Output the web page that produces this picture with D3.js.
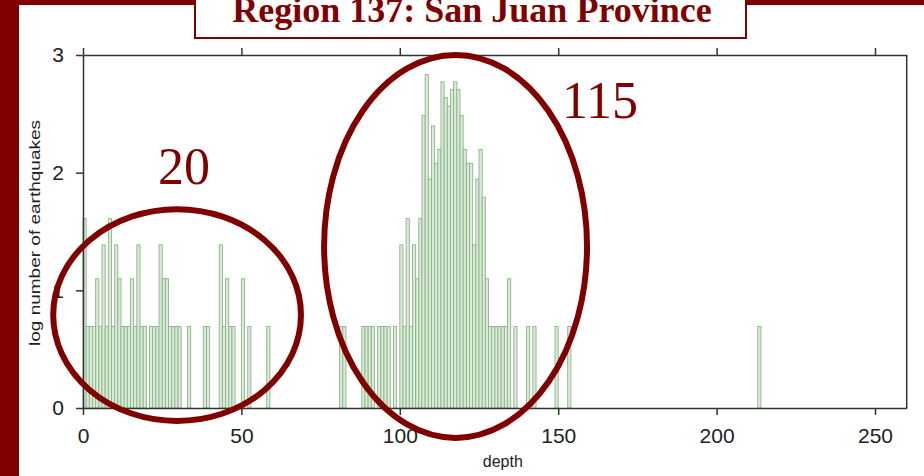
<!DOCTYPE html>
<html>
<head>
<meta charset="utf-8">
<script src="https://cdn.jsdelivr.net/npm/d3@7"></script>
<style>
  body { margin: 0; background: #fff; }
  svg { display: block; }
  .axis text { font-family: "Liberation Sans", Arial, sans-serif; fill: #222; }
  .axis path, .axis line { stroke: #333; stroke-width: 1.5; }
</style>
</head>
<body>
<svg id="chart" width="924" height="476"></svg>
<script>
// depth bins (1 km wide, left edge) and number of events in each bin.
// bins with a single event sit at log 0 and are not listed.
var depthBins = [0, 1, 2, 3, 4, 5, 6, 7, 8, 9, 10, 11, 12, 13, 14, 15, 16, 17, 18, 19,
  21, 22, 23, 24, 25, 26, 27, 28, 29, 30, 33, 38, 39, 43, 44, 45, 46, 47, 50, 52, 58,
  81, 82, 88, 89, 90, 91, 93, 94, 95, 96, 98, 100, 101, 102, 103, 104, 105, 106, 107,
  108, 109, 110, 111, 112, 113, 114, 115, 116, 117, 118, 119, 120, 121, 122, 123, 124,
  125, 126, 127, 128, 129, 130, 131, 132, 133, 134, 136, 140, 142, 149, 153, 213];
var binCounts = [5, 2, 2, 2, 3, 2, 4, 2, 5, 2, 4, 3, 2, 2, 2, 3, 2, 4, 2, 2,
  2, 2, 2, 4, 3, 3, 2, 2, 2, 2, 2, 2, 2, 4, 2, 3, 2, 2, 3, 2, 2,
  2, 2, 2, 2, 2, 2, 2, 2, 2, 2, 2, 4, 2, 5, 2, 4, 3, 5, 12,
  17, 7, 11, 8, 9, 16, 14, 13, 15, 16, 15, 12, 9, 8, 8, 4, 7,
  9, 6, 3, 2, 2, 2, 2, 2, 2, 3, 2, 2, 2, 2, 2, 2];
var xTicks = [0, 50, 100, 150, 200, 250];
var yTicks = [0, 1, 2, 3];
var titleText = 'Region 137: San Juan Province';
var xLabel = 'depth';
var yLabel = 'log number of earthquakes';

// annotated clusters: centre depth, centre log value, half widths, label and its anchor
var clusterNames = ['20', '115'];
var clusterCenters = [[29.7, 0.79], [117.6, 1.373]];
var clusterRadii = [[39.1, 0.9], [41.5, 1.627]];
var clusterLabelAt = [[31.9, 1.904], [163.2, 2.465]];

var svg = d3.select('#chart');
var darkRed = '#800000';
var plot = { left: 83, right: 906.7, top: 55, bottom: 408 };

var x = d3.scaleLinear().domain([0, 260]).range([plot.left, plot.right]);
var y = d3.scaleLinear().domain([0, 3]).range([plot.bottom, plot.top]);

var bins = depthBins.map(function(d, i) {
  return { depth: d, count: binCounts[i] };
});

// slide decoration
svg.append('rect').attr('x', 0).attr('y', 0).attr('width', 19).attr('height', 476).attr('fill', darkRed);
svg.append('rect').attr('x', 0).attr('y', 0).attr('width', 924).attr('height', 5).attr('fill', darkRed);

// bars
svg.append('g').selectAll('rect')
  .data(bins)
  .enter().append('rect')
  .attr('x', function(d) { return x(d.depth); })
  .attr('width', function(d) { return x(d.depth + 1) - x(d.depth); })
  .attr('y', function(d) { return y(Math.log(d.count)); })
  .attr('height', function(d) { return y(0) - y(Math.log(d.count)); })
  .attr('fill', '#d8edd5')
  .attr('stroke', '#93b090')
  .attr('stroke-width', 0.9);

// axes
var bottom = svg.append('g').attr('class', 'axis')
  .attr('transform', 'translate(0,' + plot.bottom + ')')
  .call(d3.axisBottom(x).tickValues(xTicks).tickSize(7).tickPadding(13).tickSizeOuter(0));
bottom.selectAll('text').style('font-size', '21px');

svg.append('g').attr('class', 'axis')
  .attr('transform', 'translate(0,' + plot.top + ')')
  .call(d3.axisTop(x).tickValues(xTicks).tickSize(7).tickSizeOuter(0).tickFormat(''));

var left = svg.append('g').attr('class', 'axis')
  .attr('transform', 'translate(' + plot.left + ',0)')
  .call(d3.axisLeft(y).tickValues(yTicks).tickFormat(d3.format('d'))
    .tickSize(7).tickPadding(12).tickSizeOuter(0));
left.selectAll('text').style('font-size', '21px');

svg.append('line').attr('class', 'frame')
  .attr('x1', plot.right).attr('x2', plot.right)
  .attr('y1', plot.top).attr('y2', plot.bottom)
  .attr('stroke', '#333').attr('stroke-width', 1.5);

svg.append('text')
  .attr('x', (plot.left + plot.right) / 2 + 8)
  .attr('y', 467)
  .attr('text-anchor', 'middle')
  .style('font-family', '"Liberation Sans", Arial, sans-serif')
  .style('font-size', '16px')
  .attr('fill', '#222')
  .text(xLabel);

svg.append('text')
  .attr('transform', 'translate(40,' + 233 + ') rotate(-90)')
  .attr('text-anchor', 'middle')
  .attr('textLength', 226)
  .attr('lengthAdjust', 'spacingAndGlyphs')
  .style('font-family', '"Liberation Sans", Arial, sans-serif')
  .style('font-size', '15px')
  .attr('fill', '#222')
  .text(yLabel);

// title box
svg.append('rect')
  .attr('x', 195).attr('y', -4).attr('width', 551).attr('height', 42)
  .attr('fill', '#fff').attr('stroke', darkRed).attr('stroke-width', 2);
svg.append('text')
  .attr('x', 472).attr('y', 22)
  .attr('text-anchor', 'middle')
  .style('font-family', '"Liberation Serif", "Times New Roman", serif')
  .style('font-weight', 'bold')
  .style('font-size', '36px')
  .attr('fill', darkRed)
  .text(titleText);

// cluster annotations
var notes = svg.append('g');
clusterNames.forEach(function(name, i) {
  var c = clusterCenters[i], r = clusterRadii[i], at = clusterLabelAt[i];
  notes.append('ellipse')
    .attr('cx', x(c[0])).attr('cy', y(c[1]))
    .attr('rx', x(r[0]) - x(0)).attr('ry', y(0) - y(r[1]))
    .attr('fill', 'none')
    .attr('stroke', darkRed)
    .attr('stroke-width', 6);
  notes.append('text')
    .attr('x', x(at[0])).attr('y', y(at[1]))
    .attr('text-anchor', 'middle')
    .style('font-family', '"Liberation Serif", "Times New Roman", serif')
    .style('font-size', '52px')
    .attr('fill', darkRed)
    .text(name);
});
</script>
</body>
</html>
